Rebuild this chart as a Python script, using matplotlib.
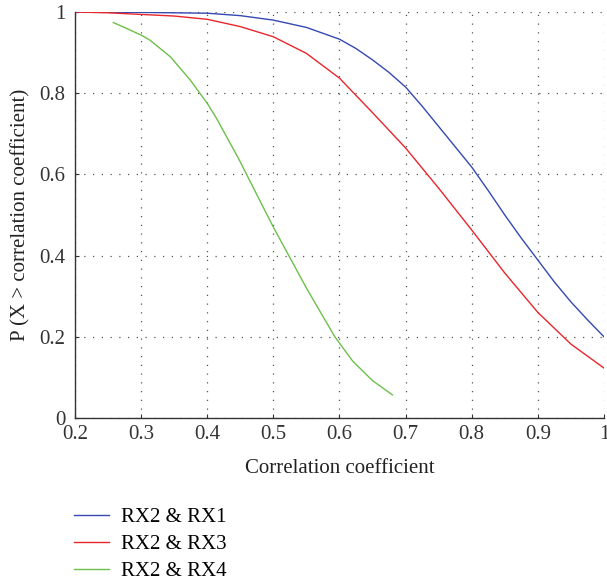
import numpy as np
import matplotlib
matplotlib.use("agg")
import matplotlib.pyplot as plt
from matplotlib.ticker import FuncFormatter

plt.rcParams["font.family"] = ["Liberation Serif", "DejaVu Serif"]

X_RX1 = [0.2, 0.3, 0.4, 0.45, 0.5, 0.55, 0.6, 0.625, 0.65, 0.675, 0.7, 0.725, 0.75,
         0.775, 0.8, 0.825, 0.85, 0.875, 0.9, 0.925, 0.95, 0.975, 1.0]
Y_RX1 = [1.0, 0.999, 0.997, 0.991, 0.98, 0.962, 0.933, 0.91, 0.882, 0.851, 0.815, 0.768, 0.718,
         0.668, 0.618, 0.56, 0.5, 0.443, 0.389, 0.335, 0.286, 0.242, 0.2]

X_RX3 = [0.2, 0.25, 0.3, 0.35, 0.4, 0.45, 0.5, 0.55, 0.6, 0.65, 0.7, 0.75, 0.8, 0.85, 0.9, 0.95, 1.0]
Y_RX3 = [1.0, 0.998, 0.994, 0.99, 0.982, 0.964, 0.939, 0.898, 0.837, 0.752, 0.665, 0.566, 0.463,
         0.357, 0.26, 0.182, 0.123]

X_RX4 = [0.258, 0.28, 0.30, 0.313, 0.344, 0.374, 0.40, 0.414, 0.447, 0.475, 0.5, 0.525,
         0.55, 0.575, 0.593, 0.62, 0.65, 0.68]
Y_RX4 = [0.974, 0.958, 0.943, 0.931, 0.89, 0.833, 0.775, 0.738, 0.64, 0.55, 0.47, 0.395,
         0.32, 0.25, 0.2, 0.14, 0.092, 0.057]

LABELS = ["RX2 & RX1", "RX2 & RX3", "RX2 & RX4"]
COLORS = ["#3549b0", "#e8262c", "#6cc04a"]

X_TICKS = [0.2, 0.3, 0.4, 0.5, 0.6, 0.7, 0.8, 0.9, 1.0]
Y_TICKS = [0, 0.2, 0.4, 0.6, 0.8, 1.0]


def fmt(v, pos):
	s = "{:.1f}".format(v)
	if s.endswith(".0"):
		s = s[:-2]
	return s


fig = plt.figure(figsize=(6.07, 5.82), dpi=100)
ax = fig.add_axes([0.1236, 0.2818, 0.8714, 0.6976])

for xs, ys, lab, col in zip([X_RX1, X_RX3, X_RX4], [Y_RX1, Y_RX3, Y_RX4], LABELS, COLORS):
	ax.plot(xs, ys, color=col, lw=1.0, label=lab)

ax.set_xlim(0.2, 1.0)
ax.set_ylim(0, 1.0)
ax.set_xticks(X_TICKS)
ax.set_yticks(Y_TICKS)
ax.xaxis.set_major_formatter(FuncFormatter(fmt))
ax.yaxis.set_major_formatter(FuncFormatter(fmt))
ax.grid(True, color="#555555", linestyle=(0, (1, 6)), lw=0.9)
ax.tick_params(direction="in", length=3, labelsize=15, colors="#333333")
ax.tick_params(axis="x", pad=5)
ax.tick_params(axis="y", pad=7)
for side in ["top", "right"]:
	ax.spines[side].set_visible(False)
for side in ["left", "bottom"]:
	ax.spines[side].set_color("#333333")
	ax.spines[side].set_linewidth(1.0)

ax.set_xlabel("Correlation coefficient", fontsize=15, color="#222222", labelpad=11)
ax.set_ylabel("P (X > correlation coefficient)", fontsize=15, color="#222222", labelpad=6)

fig.legend(loc="upper left", bbox_to_anchor=(0.091, 0.160), frameon=False,
	fontsize=15, handlelength=1.7, labelspacing=0.36, handletextpad=0.55)

plt.savefig("out.png", dpi=100)
